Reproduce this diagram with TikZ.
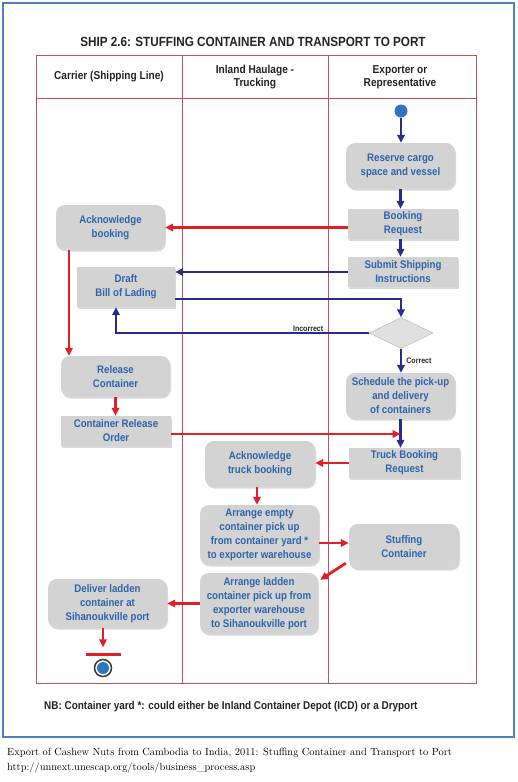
\documentclass[tikz,border=0pt]{standalone}
\usepackage{fontspec}
\newfontfamily\boxfont{Liberation Sans}[FakeStretch=0.88]
\usetikzlibrary{arrows.meta,shapes.geometric,shadows}
\definecolor{tblred}{RGB}{192,80,90}
\definecolor{frameblue}{RGB}{79,129,189}
\definecolor{boxgray}{RGB}{211,211,211}
\definecolor{txtblue}{RGB}{46,100,170}
\definecolor{navy}{RGB}{40,45,140}
\definecolor{arrred}{RGB}{226,30,40}
\definecolor{startblue}{RGB}{46,117,192}
\definecolor{inkgray}{RGB}{35,35,35}

\begin{document}
\begin{tikzpicture}[x=1pt,y=-1pt,
        rbox/.style={fill=boxgray,rounded corners=9pt,drop shadow={shadow xshift=1pt,shadow yshift=-1.5pt,opacity=.3},text=txtblue,align=center,inner sep=1pt,font=\boxfont\bfseries\fontsize{11}{14}\selectfont},
        sbox/.style={rbox,rounded corners=0pt},
        head/.style={text=inkgray,align=center,font=\boxfont\bfseries\fontsize{11.5}{13}\selectfont},
        lbl/.style={text=inkgray,inner sep=1pt,font=\boxfont\bfseries\fontsize{8}{9}\selectfont},
        navyarr/.style={draw=navy,line width=2.8pt,-{Triangle[length=8pt,width=7.5pt]}},
        redarr/.style={draw=arrred,line width=2.8pt,-{Triangle[length=8pt,width=7.5pt]}}]
        \useasboundingbox (0,0) rectangle (517,782);
        \draw[frameblue,line width=1.2pt] (3,3) rectangle (514,737);
        \node[font=\boxfont\bfseries\fontsize{13.3}{16}\selectfont,text=inkgray] (title) at (253,42) {SHIP 2.6: STUFFING CONTAINER AND TRANSPORT TO PORT};
        \draw[tblred,line width=1pt] (36,55) rectangle (476,683);
        \draw[tblred,line width=1pt] (36,98) -- (476,98);
        \draw[tblred,line width=1pt] (182,55) -- (182,683);
        \draw[tblred,line width=1pt] (328,55) -- (328,683);
        \node[head] (carrier) at (109,77) {Carrier (Shipping Line)};
        \node[head] (haulage) at (255,77) {Inland Haulage -\\Trucking};
        \node[head] (exporter) at (400,77) {Exporter or\\Representative};

        \node[circle,fill=startblue,minimum size=13pt,inner sep=0] (start) at (401,111) {};
        \node[rbox,minimum width=109pt,minimum height=46pt] (reserve) at (400.5,166) {Reserve cargo\\space and vessel};
        \node[sbox,minimum width=110pt,minimum height=30pt] (booking) at (403,224) {Booking\\Request};
        \node[rbox,minimum width=109pt,minimum height=45pt] (ackbook) at (110.5,227.5) {Acknowledge\\booking};
        \node[sbox,minimum width=110pt,minimum height=30pt] (submit) at (403,272) {Submit Shipping\\Instructions};
        \node[sbox,minimum width=98pt,minimum height=40pt] (draft) at (126,287) {Draft\\Bill of Lading};
        \node[diamond,draw=gray!60,fill=boxgray!70,minimum width=64pt,minimum height=31pt,inner sep=0] (diam) at (401,333) {};
        \node[rbox,minimum width=109pt,minimum height=41pt] (release) at (115.5,376.5) {Release\\Container};
        \node[rbox,minimum width=109pt,minimum height=46pt] (schedule) at (400.5,396) {Schedule the pick-up\\and delivery\\of containers};
        \node[sbox,minimum width=110pt,minimum height=30pt] (cro) at (116,431) {Container Release\\Order};
        \node[sbox,minimum width=111pt,minimum height=30pt] (truck) at (404.5,463) {Truck Booking\\Request};
        \node[rbox,minimum width=110pt,minimum height=46pt] (acktruck) at (260,464) {Acknowledge\\truck booking};
        \node[rbox,minimum width=119pt,minimum height=60pt] (empty) at (259.5,535) {Arrange empty\\container pick up\\from container yard *\\to exporter warehouse};
        \node[rbox,minimum width=110pt,minimum height=45pt] (stuffing) at (404,546.5) {Stuffing\\Container};
        \node[rbox,minimum width=118pt,minimum height=61pt] (ladden) at (259,603.5) {Arrange ladden\\container pick up from\\exporter warehouse\\to Sihanoukville port};
        \node[rbox,minimum width=119pt,minimum height=49pt] (deliver) at (107.5,603.5) {Deliver ladden\\container at\\Sihanoukville port};
        \node[fill=arrred,minimum width=35pt,minimum height=3pt,inner sep=0] (bar) at (103,654) {};
        \node[circle,draw=inkgray!90,line width=1.5pt,fill=white,minimum size=17pt,inner sep=0] (stop) at (103,668) {};
        \fill[startblue] (stop) circle (6pt);
        \coordinate (ackdrop) at (69,0);

        \draw[navyarr] (start) -- (start |- reserve.north);
        \draw[navyarr] (reserve.south) -- (reserve.south |- booking.north);
        \draw[redarr] (booking.west |- ackbook.east) -- (ackbook.east);
        \draw[navyarr] (booking.south -| reserve.south) -- (reserve.south |- submit.north);
        \draw[navyarr] (submit.west) -- (submit.west -| draft.east);
        \draw[navyarr] ([yshift=-12pt]draft.east) -| (diam.north);
        \draw[navyarr] (diam.west) -| node[pos=.12,above=-1pt,lbl] {Incorrect} ([xshift=-10pt]draft.south);
        \draw[navyarr] (diam.south) -- node[right=3pt,lbl] {Correct} (diam.south |- schedule.north);
        \draw[redarr] (ackbook.south -| ackdrop) -- (release.north -| ackdrop);
        \draw[redarr] (release.south) -- (release.south |- cro.north);
        \draw[navyarr] (schedule.south) -- (schedule.south |- truck.north);
        \draw[redarr] ([yshift=-3pt]cro.east) -- ([yshift=-3pt]cro.east -| schedule.south);
        \draw[redarr] (truck.west) -- (truck.west -| acktruck.east);
        \draw[redarr] ([xshift=-3pt]acktruck.south) -- ([xshift=-3pt]acktruck.south |- empty.north);
        \draw[redarr] ([yshift=-8pt]empty.east) -- ([yshift=-8pt]empty.east -| stuffing.west);
        \draw[redarr] ([xshift=-3pt,yshift=6pt]stuffing.south west) -- ([xshift=2pt,yshift=-7pt]ladden.north east);
        \draw[redarr] (ladden.west) -- (ladden.west -| deliver.east);
        \draw[redarr] (bar |- deliver.south) -- ([yshift=5pt]bar.north);

        \node[anchor=west,text=inkgray,inner sep=0,font=\boxfont\bfseries\fontsize{11.3}{13}\selectfont] (nb) at (44,707) {NB: Container yard *: could either be Inland Container Depot (ICD) or a Dryport};
        \node[anchor=base west,inner sep=0,font=\fontsize{10.4}{12}\selectfont] (caption) at (7,755) {Export of Cashew Nuts from Cambodia to India, 2011: Stuffing Container and Transport to Port};
        \node[anchor=base west,inner sep=0,font=\fontsize{10.4}{12}\selectfont] (source) at (7,770) {http://unnext.unescap.org/tools/business\_process.asp};
    \end{tikzpicture}
\end{document}
